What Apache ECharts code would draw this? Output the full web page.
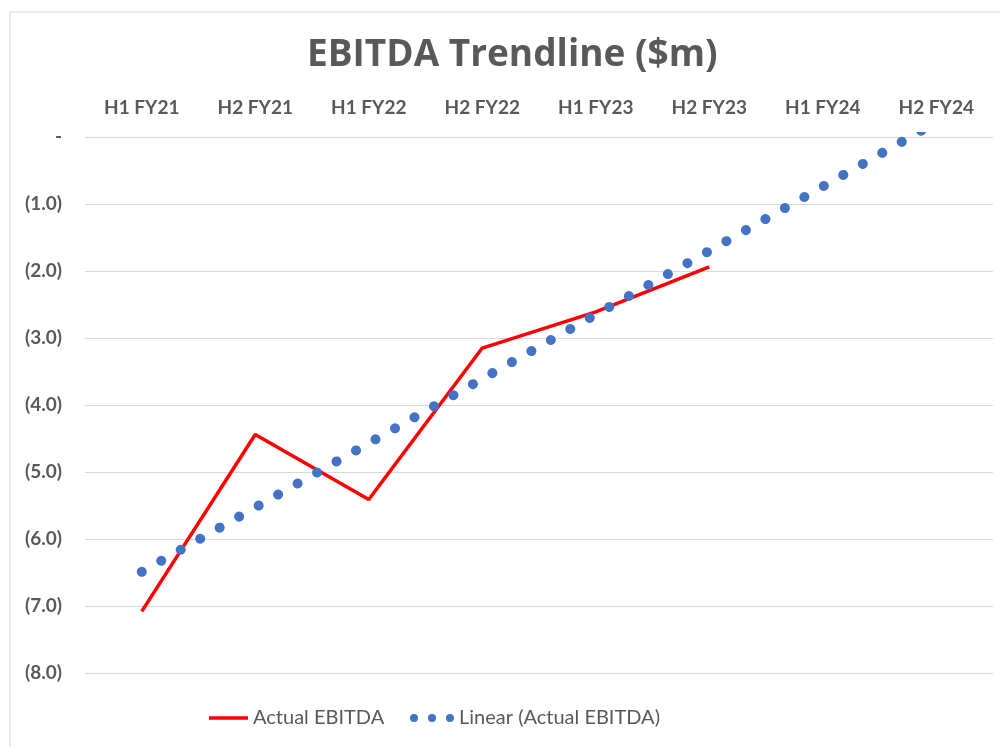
<!DOCTYPE html>
<html>
<head>
<meta charset="utf-8">
<title>EBITDA Trendline</title>
<script src="https://cdn.jsdelivr.net/npm/echarts@6/dist/echarts.min.js"></script>
<style>
  html, body { margin: 0; padding: 0; background: #fff; }
  #chart { width: 1000px; height: 747px; }
</style>
</head>
<body>
<div id="chart"></div>
<script>
// half-year periods along the top axis
const periods = ['H1 FY21', 'H2 FY21', 'H1 FY22', 'H2 FY22', 'H1 FY23', 'H2 FY23', 'H1 FY24', 'H2 FY24'];
// actual EBITDA ($m)
const actualEbitda = [-7.08, -4.44, -5.41, -3.15, -2.61, -1.94];
// linear trendline ($m) (runs past 0 and is clipped)
const linearTrend = [-6.49, -5.53, -4.57, -3.61, -2.65, -1.70, -0.74, 0.22];

const grey = '#595959';
const font = 'Lato';

const fmtY = (v) => v === 0 ? '-' : '(' + Math.abs(v).toFixed(1) + ')';

const chart = echarts.init(document.getElementById('chart'));
chart.setOption({
  animation: false,
  backgroundColor: '#fff',
  textStyle: {fontFamily: font},
  title: {
    text: 'EBITDA Trendline ($m)',
    left: 307,
    top: 37,
    padding: 0,
    textStyle: {fontFamily: 'Open Sans', fontSize: 37, fontWeight: 'bold', color: grey}
  },
  graphic: [{
    type: 'rect',
    shape: {x: 10, y: 12, width: 1000, height: 800},
    style: {fill: 'none', stroke: '#d9d9d9', lineWidth: 1},
    silent: true
  }],
  legend: [{
    data: [{name: 'Actual EBITDA', icon: 'rect'}],
    left: 209,
    top: 708,
    padding: 0,
    itemWidth: 39,
    itemHeight: 3.5,
    itemStyle: {borderWidth: 0},
    textStyle: {fontFamily: font, fontSize: 20, color: grey}
  }, {
    data: [{
      name: 'Linear (Actual EBITDA)',
      icon: 'path://M0,4A4,4,0,1,0,8,4A4,4,0,1,0,0,4ZM18,4A4,4,0,1,0,26,4A4,4,0,1,0,18,4ZM36,4A4,4,0,1,0,44,4A4,4,0,1,0,36,4Z'
    }],
    left: 410,
    top: 708,
    padding: 0,
    itemWidth: 44,
    itemHeight: 8,
    itemStyle: {borderWidth: 0},
    textStyle: {fontFamily: font, fontSize: 20, color: grey}
  }],
  grid: {
    left: 85,
    right: 7,
    top: 137,
    bottom: 74,
    containLabel: false,
    outerBoundsMode: 'none'
  },
  xAxis: {
    type: 'category',
    position: 'top',
    data: periods,
    boundaryGap: true,
    axisLine: {show: false},
    axisTick: {show: false},
    splitLine: {show: false},
    axisLabel: {
      margin: 20,
      fontFamily: font,
      fontSize: 19,
      fontWeight: 'bold',
      color: grey
    }
  },
  yAxis: {
    type: 'value',
    min: -8,
    max: 0,
    interval: 1,
    axisLine: {show: false},
    axisTick: {show: false},
    splitLine: {lineStyle: {color: '#d9d9d9', width: 1}},
    axisLabel: {
      margin: 23,
      fontFamily: font,
      fontSize: 19,
      fontWeight: 'bold',
      color: grey,
      formatter: fmtY
    }
  },
  series: [{
    name: 'Actual EBITDA',
    type: 'line',
    data: actualEbitda,
    symbol: 'none',
    itemStyle: {color: '#ff0000'},
    lineStyle: {color: '#ff0000', width: 3.5},
    z: 2
  }, {
    name: 'Linear (Actual EBITDA)',
    type: 'line',
    data: linearTrend,
    symbol: 'none',
    clip: true,
    itemStyle: {color: '#4472c4'},
    lineStyle: {color: '#4472c4', width: 10, type: [0.01, 22.38], cap: 'round'},
    z: 3
  }]
});
</script>
</body>
</html>
